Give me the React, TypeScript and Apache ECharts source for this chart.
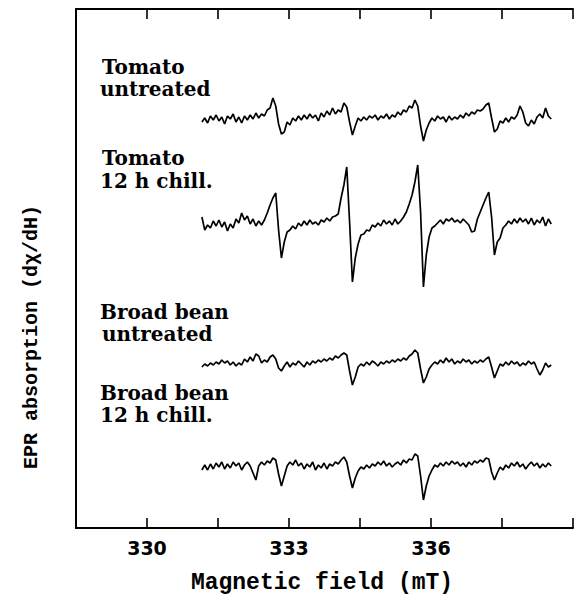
import React, { useEffect, useRef } from "react";
import * as echarts from "echarts";

// Magnetic field sampling (mT)
const FIELD = [
  331.16, 331.22, 331.28, 331.34, 331.4, 331.46, 331.52, 331.58, 331.64, 331.7,
  331.76, 331.82, 331.88, 331.94, 332.0, 332.06, 332.12, 332.18, 332.24, 332.3,
  332.36, 332.42, 332.48, 332.54, 332.6, 332.66, 332.72, 332.78, 332.84, 332.9,
  332.96, 333.02, 333.08, 333.14, 333.2, 333.26, 333.32, 333.38, 333.44, 333.5,
  333.56, 333.62, 333.68, 333.74, 333.8, 333.86, 333.92, 333.98, 334.04, 334.1,
  334.16, 334.22, 334.28, 334.34, 334.4, 334.46, 334.52, 334.58, 334.64, 334.7,
  334.76, 334.82, 334.88, 334.94, 335.0, 335.06, 335.12, 335.18, 335.24, 335.3,
  335.36, 335.42, 335.48, 335.54, 335.6, 335.66, 335.72, 335.78, 335.84, 335.9,
  335.96, 336.02, 336.08, 336.14, 336.2, 336.26, 336.32, 336.38, 336.44, 336.5,
  336.56, 336.62, 336.68, 336.74, 336.8, 336.86, 336.92, 336.98, 337.04, 337.1,
  337.16, 337.22, 337.28, 337.34, 337.4, 337.46, 337.52, 337.58, 337.64, 337.7,
  337.76, 337.82, 337.88, 337.94, 338.0, 338.06, 338.12, 338.18, 338.24, 338.3,
  338.36, 338.42, 338.48, 338.54,
];

// EPR derivative signals (arbitrary units)
const TOMATO_UNTREATED = [
  -2, 2, -3, 4, 0, 5, -1, 3, -4, 4,
  1, 6, -2, 3, -3, 4, 0, 5, 1, 7,
  2, 6, 4, 10, 12, 22, 14, -4, -14, -12,
  -2, -5, 2, -1, 4, 0, 5, 1, 6, 2,
  5, -1, 7, 3, 9, 5, 12, 6, 10, 8,
  17, 13, -2, -15, -6, 2, -1, 3, 0, 4,
  2, 5, 0, 4, 2, 6, 1, 5, 3, 8,
  5, 10, 8, 14, 12, 20, 14, -6, -21, -10,
  -3, 2, -1, 4, 1, 3, -2, 4, 0, 3,
  1, 5, 2, 7, 4, 8, 6, 10, 9, 11,
  15, 17, 2, -12, -9, -1, -3, 2, -2, 3,
  1, 5, 14, 8, -3, -6, 0, -4, 3, 6,
  2, 12, 4, 1,
];

const TOMATO_CHILLED = [
  5, -8, -3, -6, 1, -4, 2, -5, 0, -9,
  -2, -6, 3, -1, 9, 2, 6, -2, 3, -4,
  1, -3, 2, 9, 17, 24, 29, -8, -36, -20,
  -10, -8, -4, -7, -1, -4, 1, -3, 2, -2,
  0, -3, 2, 0, 4, 1, 5, 6, 8, 24,
  37, 55, 0, -60, -36, -22, -13, -12, -8, -9,
  -3, -5, -1, -4, 2, -2, 1, -3, 3, -2,
  1, 5, 10, 18, 27, 40, 57, 10, -65, -33,
  -15, -6, -4, -1, 2, -2, 3, 1, 4, 0,
  2, -1, 3, 0, -3, -10, -9, 3, 10, 17,
  24, 30, 5, -33, -20, -16, -6, -3, 1, -2,
  3, -1, 4, 0, 3, -2, 4, -3, 2, -1,
  5, -4, 3, -2,
];

const BEAN_UNTREATED = [
  -2, 1, -1, 2, 0, 3, 1, 5, 2, 4,
  0, 3, -1, 2, 0, 6, 3, 8, 4, 11,
  9, 2, 5, 3, 8, 10, 6, -3, -6, -1,
  3, -2, 2, 0, 4, 1, -2, 3, 0, 4,
  2, 5, 3, 6, 4, 7, 5, 9, 7, 10,
  12, 10, -6, -20, -12, -2, 1, -1, 3, 0,
  4, 2, -1, 3, 1, 4, 2, 5, 3, 6,
  4, 7, 5, 9, 11, 15, 12, -4, -18, -12,
  -4, 0, 3, 1, 5, 2, 7, 3, 6, 1,
  4, 2, 6, 3, 5, 1, 4, 2, 5, 3,
  6, 8, -2, -13, -6, 1, -1, 3, 0, 4,
  1, 3, -1, 2, 0, 4, 1, 3, -4, -10,
  -5, 2, -2, 0,
];

const BEAN_CHILLED = [
  -2, 3, -2, 4, -1, 5, 1, 6, -1, 4,
  0, 6, 2, 5, -2, 3, 6, 2, -5, -12,
  2, 6, 3, 7, 5, 10, 8, -6, -18, -8,
  2, 6, 3, 8, 2, 5, -1, 4, 1, 6,
  -2, 3, 0, 5, -1, 4, 2, 6, 4, 8,
  11, 6, -8, -20, -10, -3, 1, -1, 3, 0,
  4, 2, 6, 3, 7, 2, 5, 1, 4, 6,
  3, 8, 5, 9, 8, 14, 12, -8, -32, -18,
  -8, -2, 3, 1, 5, 2, 6, 3, 7, 4,
  6, 2, 5, 1, 6, 3, 7, 5, 8, 6,
  10, 9, -4, -12, -5, 1, -2, 3, 0, 5,
  2, 6, 1, 4, -1, 3, 6, 2, 5, 0,
  4, 1, 5, 2,
];

const TRACES = [TOMATO_UNTREATED, TOMATO_CHILLED, BEAN_UNTREATED, BEAN_CHILLED];
const TRACE_OFFSETS = [408, 306, 163, 60];
const TRACE_NAMES = ["Tomato untreated", "Tomato 12 h chill.", "Broad bean untreated", "Broad bean 12 h chill."];
const LABEL_LINES = [
  ["Tomato", "untreated"],
  ["Tomato", "12 h chill."],
  ["Broad bean", "untreated"],
  ["Broad bean", "12 h chill."],
];
const X_TICK_LABELS = ["330", "333", "336"];

const MONO = "'Liberation Mono', 'DejaVu Sans Mono', monospace";
const SERIF = "'DejaVu Serif', serif";

export default function App() {
  const ref = useRef<HTMLDivElement>(null);
  useEffect(() => {
    if (!ref.current) return;
    const chart = echarts.init(ref.current, null, { renderer: "svg" });

    const labelPos = [
      { x: [102, 100], y: [67, 89] },
      { x: [102, 100], y: [158, 181] },
      { x: [100, 102], y: [312, 334] },
      { x: [100, 100], y: [393, 415] },
    ];
    const graphics: any[] = [];
    LABEL_LINES.forEach((lines, i) => {
      lines.forEach((t, j) => {
        const p = labelPos[i];
        graphics.push({
          type: "text",
          x: p.x[j],
          y: p.y[j],
          style: {
            text: t,
            font: `bold 20px ${SERIF}`,
            fill: "#000",
            textAlign: "left",
            textVerticalAlign: "middle",
          },
        });
      });
    });
    graphics.push({
      type: "text",
      x: 322,
      y: 583,
      style: {
        text: "Magnetic field (mT)",
        font: `bold 23px ${MONO}`,
        fill: "#000",
        textAlign: "center",
        textVerticalAlign: "middle",
      },
    });
    graphics.push({
      type: "text",
      x: 31,
      y: 337,
      rotation: Math.PI / 2,
      style: {
        text: "EPR absorption (dχ/dH)",
        font: `bold 20px ${MONO}`,
        fill: "#000",
        textAlign: "center",
        textVerticalAlign: "middle",
      },
    });

    const axisCommon = {
      type: "value",
      min: 328.5,
      max: 339,
      interval: 1.5,
      splitLine: { show: false },
      axisLine: { show: true, onZero: false, lineStyle: { color: "#000", width: 2 } },
      axisTick: { show: true, inside: true, length: 10, lineStyle: { color: "#000", width: 1.6 } },
    };

    chart.setOption({
      animation: false,
      backgroundColor: "#fff",
      grid: { left: 76, top: 9, width: 504, height: 519, containLabel: false },
      xAxis: [
        {
          ...axisCommon,
          position: "bottom",
          axisLabel: {
            show: true,
            margin: 10,
            fontFamily: "'DejaVu Sans', sans-serif",
            fontWeight: "bold",
            fontSize: 19,
            color: "#000",
            formatter: (v: number) => {
              const s = String(Math.round(v * 10) / 10);
              return X_TICK_LABELS.includes(s) ? s : "";
            },
          },
        },
        {
          ...axisCommon,
          position: "top",
          axisLabel: { show: false },
        },
      ],
      yAxis: {
        type: "value",
        min: 0,
        max: 519,
        axisLabel: { show: false },
        axisTick: { show: false },
        splitLine: { show: false },
        axisLine: { show: true, lineStyle: { color: "#000", width: 2 } },
      },
      graphic: graphics,
      series: TRACES.map((vals, i) => ({
        name: TRACE_NAMES[i],
        type: "line",
        xAxisIndex: 0,
        showSymbol: false,
        symbol: "none",
        lineStyle: { color: "#000", width: 1.7 },
        data: FIELD.map((f, k) => [f, TRACE_OFFSETS[i] + vals[k]]),
      })),
    });
    return () => chart.dispose();
  }, []);
  return (
    <div
      ref={ref}
      style={{ position: "absolute", left: 0, top: 0, width: 576, height: 601 }}
    />
  );
}
